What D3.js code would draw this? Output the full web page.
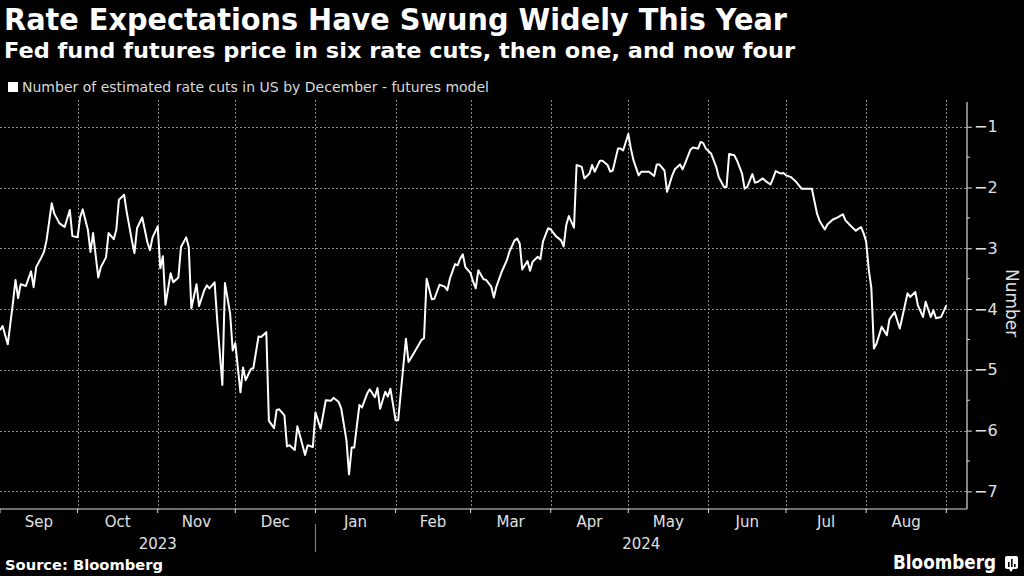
<!DOCTYPE html>
<html>
<head>
<meta charset="utf-8">
<script src="https://cdn.jsdelivr.net/npm/d3@7"></script>
<style>
  body { margin: 0; background: #000; }
  svg { display: block; }
  text { font-family: "DejaVu Sans", sans-serif; }
</style>
</head>
<body>
<div class="container"></div>
<script>
  var width = 1024,
    height = 576;

  var title = "Rate Expectations Have Swung Widely This Year",
    subtitle = "Fed fund futures price in six rate cuts, then one, and now four",
    legendLabel = "Number of estimated rate cuts in US by December - futures model",
    axisTitle = "Number",
    source = "Source: Bloomberg";

  var yTicks = [-1, -2, -3, -4, -5, -6, -7];
  var monthLabels = ["Sep", "Oct", "Nov", "Dec", "Jan", "Feb", "Mar", "Apr", "May", "Jun", "Jul", "Aug"];
  var yearLabels = ["2023", "2024"];

  // estimated cuts (negative)
  var dates = [
    "2023-09-01","2023-09-02","2023-09-04","2023-09-06","2023-09-07","2023-09-08","2023-09-09","2023-09-11","2023-09-13","2023-09-14",
    "2023-09-15","2023-09-17","2023-09-18","2023-09-19","2023-09-21","2023-09-22","2023-09-24","2023-09-25","2023-09-26","2023-09-28",
    "2023-09-29","2023-10-01","2023-10-02","2023-10-03","2023-10-05","2023-10-06","2023-10-07","2023-10-09","2023-10-10","2023-10-12",
    "2023-10-13","2023-10-15","2023-10-16","2023-10-17","2023-10-19","2023-10-20","2023-10-22","2023-10-23","2023-10-24","2023-10-26",
    "2023-10-28","2023-10-29","2023-10-30","2023-11-01","2023-11-02","2023-11-03","2023-11-04","2023-11-06","2023-11-07","2023-11-09",
    "2023-11-10","2023-11-12","2023-11-13","2023-11-14","2023-11-16","2023-11-17","2023-11-19","2023-11-20","2023-11-21","2023-11-23",
    "2023-11-24","2023-11-26","2023-11-27","2023-11-29","2023-11-30","2023-12-01","2023-12-03","2023-12-04","2023-12-05","2023-12-07",
    "2023-12-08","2023-12-10","2023-12-11","2023-12-13","2023-12-14","2023-12-16","2023-12-17","2023-12-18","2023-12-20","2023-12-21",
    "2023-12-22","2023-12-24","2023-12-25","2023-12-26","2023-12-28","2023-12-29","2023-12-31","2024-01-01","2024-01-03","2024-01-05",
    "2024-01-07","2024-01-08","2024-01-10","2024-01-11","2024-01-13","2024-01-14","2024-01-15","2024-01-16","2024-01-18","2024-01-19",
    "2024-01-21","2024-01-22","2024-01-24","2024-01-25","2024-01-26","2024-01-28","2024-01-29","2024-01-30","2024-02-01","2024-02-02",
    "2024-02-05","2024-02-06","2024-02-08","2024-02-11","2024-02-12","2024-02-13","2024-02-15","2024-02-16","2024-02-18","2024-02-20",
    "2024-02-21","2024-02-22","2024-02-24","2024-02-25","2024-02-26","2024-02-27","2024-02-28","2024-03-01","2024-03-02","2024-03-03",
    "2024-03-04","2024-03-06","2024-03-07","2024-03-09","2024-03-10","2024-03-11","2024-03-13","2024-03-15","2024-03-16","2024-03-18",
    "2024-03-19","2024-03-20","2024-03-21","2024-03-23","2024-03-24","2024-03-25","2024-03-27","2024-03-28","2024-03-29","2024-03-31",
    "2024-04-01","2024-04-03","2024-04-05","2024-04-06","2024-04-07","2024-04-08","2024-04-10","2024-04-11","2024-04-13","2024-04-14",
    "2024-04-16","2024-04-17","2024-04-18","2024-04-20","2024-04-21","2024-04-23","2024-04-24","2024-04-25","2024-04-27","2024-04-28",
    "2024-04-29","2024-05-01","2024-05-02","2024-05-03","2024-05-05","2024-05-06","2024-05-09","2024-05-11","2024-05-12","2024-05-13",
    "2024-05-15","2024-05-16","2024-05-18","2024-05-19","2024-05-21","2024-05-22","2024-05-23","2024-05-25","2024-05-26","2024-05-28",
    "2024-05-29","2024-05-30","2024-05-31","2024-06-02","2024-06-04","2024-06-05","2024-06-07","2024-06-08","2024-06-09","2024-06-11",
    "2024-06-12","2024-06-14","2024-06-15","2024-06-16","2024-06-18","2024-06-19","2024-06-20","2024-06-22","2024-06-23","2024-06-25",
    "2024-06-26","2024-06-27","2024-06-29","2024-06-30","2024-07-01","2024-07-03","2024-07-04","2024-07-05","2024-07-07","2024-07-08",
    "2024-07-11","2024-07-13","2024-07-14","2024-07-16","2024-07-17","2024-07-19","2024-07-21","2024-07-23","2024-07-24","2024-07-26",
    "2024-07-27","2024-07-28","2024-07-30","2024-07-31","2024-08-01","2024-08-02","2024-08-03","2024-08-04","2024-08-05","2024-08-07",
    "2024-08-09","2024-08-10","2024-08-12","2024-08-14","2024-08-15","2024-08-17","2024-08-18","2024-08-20","2024-08-21","2024-08-23",
    "2024-08-24","2024-08-26","2024-08-27","2024-08-28","2024-08-30","2024-09-01"
  ];

  var cuts = [
    -4.35,-4.28,-4.58,-3.90,-3.52,-3.82,-3.59,-3.62,-3.38,-3.64,
    -3.31,-3.15,-3.06,-2.87,-2.26,-2.43,-2.59,-2.62,-2.65,-2.37,
    -2.80,-2.82,-2.49,-2.36,-2.70,-3.06,-2.75,-3.48,-3.31,-3.15,
    -2.75,-2.85,-2.69,-2.20,-2.12,-2.40,-2.87,-3.08,-2.67,-2.49,
    -2.90,-3.03,-2.82,-2.64,-3.33,-3.13,-3.93,-3.41,-3.56,-3.48,
    -2.98,-2.82,-2.98,-3.99,-3.59,-3.95,-3.69,-3.61,-3.66,-3.56,
    -4.18,-5.25,-3.57,-4.07,-4.68,-4.56,-5.37,-4.96,-5.17,-4.99,
    -4.97,-4.45,-4.46,-4.38,-5.84,-5.96,-5.66,-5.65,-5.75,-6.26,
    -6.24,-6.32,-5.93,-6.08,-6.40,-6.24,-6.27,-5.70,-5.97,-5.50,
    -5.51,-5.46,-5.53,-5.64,-6.16,-6.72,-6.28,-6.28,-5.58,-5.62,
    -5.39,-5.32,-5.45,-5.30,-5.64,-5.36,-5.44,-5.31,-5.83,-5.83,
    -4.49,-4.87,-4.73,-4.51,-4.48,-3.50,-3.84,-3.83,-3.60,-3.63,
    -3.69,-3.50,-3.26,-3.28,-3.17,-3.10,-3.31,-3.41,-3.55,-3.66,
    -3.36,-3.51,-3.52,-3.63,-3.81,-3.63,-3.39,-3.20,-3.06,-2.87,
    -2.84,-2.92,-3.35,-3.21,-3.37,-3.22,-3.14,-3.18,-2.89,-2.67,
    -2.69,-2.80,-2.87,-2.97,-2.62,-2.47,-2.66,-1.63,-1.66,-1.85,
    -1.77,-1.63,-1.74,-1.56,-1.56,-1.63,-1.74,-1.72,-1.36,-1.36,
    -1.39,-1.12,-1.36,-1.55,-1.80,-1.74,-1.74,-1.81,-1.62,-1.62,
    -1.72,-2.07,-1.80,-1.70,-1.62,-1.70,-1.60,-1.38,-1.34,-1.36,
    -1.25,-1.27,-1.36,-1.44,-1.66,-1.83,-1.99,-1.99,-1.45,-1.47,
    -1.55,-1.77,-2.02,-1.99,-1.78,-1.92,-1.91,-1.85,-1.89,-1.95,
    -1.85,-1.73,-1.77,-1.76,-1.80,-1.83,-1.87,-1.91,-2.02,-2.02,
    -2.02,-2.43,-2.55,-2.69,-2.61,-2.53,-2.49,-2.44,-2.54,-2.63,
    -2.67,-2.71,-2.65,-2.75,-2.89,-3.35,-3.65,-4.65,-4.57,-4.29,
    -4.43,-4.17,-4.05,-4.32,-4.13,-3.74,-3.80,-3.72,-3.94,-4.13,
    -3.88,-4.13,-4.02,-4.15,-4.13,-3.94
  ];

  var parse = d3.timeParse("%Y-%m-%d");
  var data = dates.map(function(d, i) { return { date: parse(d), value: cuts[i] }; });

  var plot = { left: 0, right: 967, top: 100, bottom: 509 };

  var x = d3.scaleTime()
    .domain([parse("2023-09-01"), parse("2024-09-09")])
    .range([plot.left, plot.right]);

  var y = d3.scaleLinear()
    .domain([-7.29, -0.56])
    .range([plot.bottom, plot.top]);

  var svg = d3.select(".container").append("svg")
    .attr("width", width)
    .attr("height", height);

  svg.append("rect").attr("width", width).attr("height", height).attr("fill", "#000");

  // header
  svg.append("text")
    .attr("x", 4).attr("y", 30)
    .attr("fill", "#fff")
    .attr("font-size", 30).attr("font-weight", "bold")
    .attr("textLength", 783).attr("lengthAdjust", "spacingAndGlyphs")
    .text(title);

  svg.append("text")
    .attr("x", 4).attr("y", 58)
    .attr("fill", "#fff")
    .attr("font-size", 21).attr("font-weight", "bold")
    .attr("textLength", 791).attr("lengthAdjust", "spacingAndGlyphs")
    .text(subtitle);

  svg.append("rect")
    .attr("x", 8).attr("y", 82).attr("width", 10).attr("height", 10)
    .attr("fill", "#fff");

  svg.append("text")
    .attr("x", 22).attr("y", 92)
    .attr("fill", "#d9d9d9")
    .attr("font-size", 14.5)
    .attr("textLength", 467).attr("lengthAdjust", "spacingAndGlyphs")
    .text(legendLabel);

  // grid
  var months = d3.timeMonth.range(parse("2023-09-01"), parse("2024-09-02"));

  svg.append("g")
    .selectAll("line")
    .data(yTicks)
    .enter().append("line")
    .attr("x1", plot.left).attr("x2", plot.right)
    .attr("y1", function(d) { return Math.round(y(d)) + 0.5; })
    .attr("y2", function(d) { return Math.round(y(d)) + 0.5; })
    .attr("stroke", "#8a8a8a")
    .attr("stroke-width", 1)
    .attr("stroke-dasharray", "2,2");

  svg.append("g")
    .selectAll("line")
    .data(months.slice(1))
    .enter().append("line")
    .attr("x1", function(d) { return Math.round(x(d)) + 0.5; })
    .attr("x2", function(d) { return Math.round(x(d)) + 0.5; })
    .attr("y1", plot.top).attr("y2", plot.bottom)
    .attr("stroke", "#8a8a8a")
    .attr("stroke-width", 1)
    .attr("stroke-dasharray", "2,2");

  // line
  var line = d3.line()
    .x(function(d) { return x(d.date); })
    .y(function(d) { return y(d.value); });

  svg.append("path")
    .datum(data)
    .attr("fill", "none")
    .attr("stroke", "#fff")
    .attr("stroke-width", 2)
    .attr("stroke-linejoin", "round")
    .attr("d", line);

  // right axis
  var yAxis = d3.axisRight(y)
    .tickValues(yTicks)
    .tickSize(5)
    .tickPadding(2)
    .tickFormat(d3.format("d"));

  var gy = svg.append("g")
    .attr("transform", "translate(" + plot.right + ",0)")
    .call(yAxis);

  gy.select(".domain").remove();
  gy.selectAll("line").attr("stroke", "#ddd");
  gy.selectAll("text")
    .attr("fill", "#e0e0e0")
    .attr("font-size", 16)
    .attr("font-family", "DejaVu Sans, sans-serif");

  gy.append("g")
    .selectAll("line")
    .data(d3.range(-6.5, -0.5, 1))
    .enter().append("line")
    .attr("x1", 0).attr("x2", 3)
    .attr("y1", function(d) { return y(d); })
    .attr("y2", function(d) { return y(d); })
    .attr("stroke", "#ddd");

  svg.append("line")
    .attr("x1", plot.right).attr("x2", plot.right)
    .attr("y1", plot.top + 2).attr("y2", plot.bottom)
    .attr("stroke", "#ddd").attr("stroke-width", 1.2);

  svg.append("text")
    .attr("transform", "translate(1006," + (y(-4) - 6) + ") rotate(90)")
    .attr("text-anchor", "middle")
    .attr("fill", "#e0e0e0")
    .attr("font-size", 17)
    .text(axisTitle);

  // bottom axis
  svg.append("line")
    .attr("x1", plot.left).attr("x2", plot.right)
    .attr("y1", plot.bottom).attr("y2", plot.bottom)
    .attr("stroke", "#ddd").attr("stroke-width", 1.2);

  svg.append("g")
    .selectAll("line")
    .data(months)
    .enter().append("line")
    .attr("x1", function(d) { return x(d); })
    .attr("x2", function(d) { return x(d); })
    .attr("y1", plot.bottom).attr("y2", plot.bottom + 4)
    .attr("stroke", "#ddd");

  svg.append("g")
    .selectAll("text")
    .data(months.slice(0, monthLabels.length))
    .enter().append("text")
    .attr("x", function(d) { return (x(d) + x(d3.timeMonth.offset(d, 1))) / 2; })
    .attr("y", 527)
    .attr("text-anchor", "middle")
    .attr("fill", "#e0e0e0")
    .attr("font-size", 15)
    .text(function(d, i) { return monthLabels[i]; });

  var yearSplit = x(parse("2024-01-01"));
  var yearCenters = [(plot.left + yearSplit) / 2, (yearSplit + plot.right) / 2];

  svg.append("g")
    .selectAll("text")
    .data(yearLabels)
    .enter().append("text")
    .attr("x", function(d, i) { return yearCenters[i]; })
    .attr("y", 549)
    .attr("text-anchor", "middle")
    .attr("fill", "#e0e0e0")
    .attr("font-size", 15)
    .text(function(d) { return d; });

  svg.append("line")
    .attr("x1", yearSplit).attr("x2", yearSplit)
    .attr("y1", 524).attr("y2", 552)
    .attr("stroke", "#888");

  // footer
  svg.append("text")
    .attr("x", 5).attr("y", 570)
    .attr("fill", "#fff")
    .attr("font-size", 14).attr("font-weight", "bold")
    .attr("textLength", 158).attr("lengthAdjust", "spacingAndGlyphs")
    .text(source);

  svg.append("text")
    .attr("x", 893).attr("y", 569)
    .attr("fill", "#fff")
    .attr("font-size", 19).attr("font-weight", "bold")
    .attr("textLength", 103).attr("lengthAdjust", "spacingAndGlyphs")
    .text("Bloomberg");

  var logo = svg.append("g").attr("transform", "translate(1005,556)");
  logo.append("rect")
    .attr("width", 13).attr("height", 13).attr("rx", 2)
    .attr("fill", "#fff");
  logo.append("path")
    .attr("d", "M4,13 L6,16 L8,13 Z")
    .attr("fill", "#fff");
  logo.selectAll(".bar")
    .data([5, 8, 3])
    .enter().append("rect")
    .attr("x", function(d, i) { return 3 + i * 3; })
    .attr("y", function(d) { return 11 - d; })
    .attr("width", 1.6)
    .attr("height", function(d) { return d; })
    .attr("fill", "#000");
</script>
</body>
</html>
